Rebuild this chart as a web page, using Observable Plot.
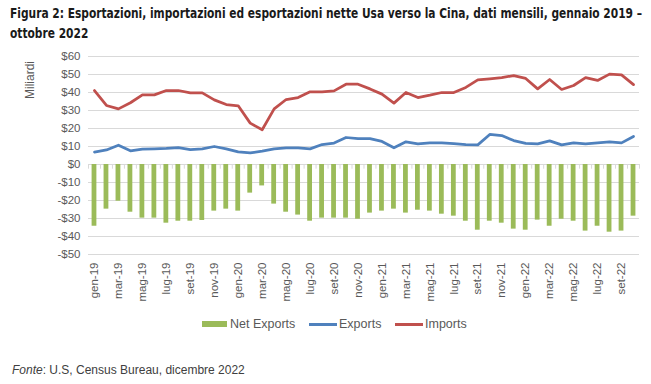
<!DOCTYPE html>
<html>
<head>
<meta charset="utf-8">
<script src="https://cdn.jsdelivr.net/npm/d3@7"></script>
<script src="https://cdn.jsdelivr.net/npm/@observablehq/plot@0.6"></script>
<style>
  html, body { margin: 0; padding: 0; background: #fff; }
  #wrap { position: relative; width: 651px; height: 384px; overflow: hidden; font-family: "Liberation Sans", Arial, sans-serif; }
  #title { position: absolute; left: 10px; top: 4px; white-space: nowrap; transform-origin: 0 0; font-family: "Liberation Sans Narrow", "DejaVu Sans Condensed", sans-serif; font-weight: bold; font-size: 13.5px; line-height: 19.5px; color: #1a1a1a; }
  #title span { display: block; width: max-content; }
  #chart { position: absolute; left: 0; top: 44px; }
  .leg { position: absolute; font-size: 12.5px; color: #595959; top: 316px; line-height: 16px; }
  .sw { position: absolute; }
  #caption { position: absolute; left: 12px; top: 363px; font-size: 12px; color: #404040; }
</style>
</head>
<body>
<div id="wrap">
  <div id="title"><span id="t1">Figura 2: Esportazioni, importazioni ed esportazioni nette Usa verso la Cina, dati mensili, gennaio 2019 –</span><span>ottobre 2022</span></div>
  <div id="chart"></div>
  <div class="sw" style="left:202px;top:321px;width:25px;height:6px;background:#9BBB59"></div>
  <div class="leg" style="left:230px">Net Exports</div>
  <div class="sw" style="left:309px;top:323px;width:28px;height:3px;background:#4F81BD"></div>
  <div class="leg" style="left:339px">Exports</div>
  <div class="sw" style="left:395px;top:323px;width:28px;height:3px;background:#C0504D"></div>
  <div class="leg" style="left:425px">Imports</div>
  <div id="caption"><i>Fonte</i>: U.S, Census Bureau, dicembre 2022</div>
</div>
<script>
const months = ["gen-19","feb-19","mar-19","apr-19","mag-19","giu-19","lug-19","ago-19","set-19","ott-19","nov-19","dic-19",
  "gen-20","feb-20","mar-20","apr-20","mag-20","giu-20","lug-20","ago-20","set-20","ott-20","nov-20","dic-20",
  "gen-21","feb-21","mar-21","apr-21","mag-21","giu-21","lug-21","ago-21","set-21","ott-21","nov-21","dic-21",
  "gen-22","feb-22","mar-22","apr-22","mag-22","giu-22","lug-22","ago-22","set-22","ott-22"];
const exportsV = [6.9,8.1,10.7,7.6,8.5,8.7,8.9,9.4,8.3,8.7,10.0,8.7,
  7.0,6.5,7.4,8.7,9.3,9.3,8.7,11.1,11.9,15.0,14.4,14.4,
  12.8,9.3,12.6,11.5,12.0,12.0,11.6,11.1,10.9,16.7,16.1,13.3,
  11.7,11.5,13.1,10.9,12.0,11.5,12.0,12.6,12.0,15.6];
const importsV = [41.1,32.8,30.9,34.3,38.7,38.7,41.1,41.1,39.8,39.8,35.9,33.3,
  32.6,23.0,19.3,30.9,36.1,37.2,40.4,40.4,40.9,44.6,44.6,42.0,
  39.1,34.1,40.0,37.2,38.5,40.0,40.0,42.8,47.0,47.6,48.3,49.4,
  47.8,42.0,47.2,41.7,43.9,48.3,46.7,50.2,49.8,44.4];
const netV = [-34.3,-24.8,-20.4,-26.5,-29.8,-29.8,-32.6,-31.5,-31.5,-31.1,-25.9,-24.8,
  -25.9,-15.9,-11.9,-22.0,-26.5,-28.1,-31.5,-29.8,-29.8,-29.8,-30.4,-27.0,
  -25.9,-24.8,-27.0,-25.4,-25.9,-27.6,-28.7,-31.5,-36.5,-31.5,-32.6,-35.9,
  -36.5,-30.9,-34.3,-30.4,-31.5,-37.0,-34.3,-37.6,-37.0,-28.7];
const yTicks = [-50,-40,-30,-20,-10,0,10,20,30,40,50,60];
const xTickLabels = months.filter((d, i) => i % 2 === 0);

const rows = months.map((m, i) => ({month: m, exp: exportsV[i], imp: importsV[i], net: netV[i]}));
const fmt = d => (d < 0 ? "-" : "") + "$" + Math.abs(d);

const chart = Plot.plot({
  width: 651,
  height: 270,
  marginTop: 12,
  marginBottom: 60,
  marginLeft: 88,
  marginRight: 12,
  style: {fontFamily: "'Liberation Sans', Arial, sans-serif", fontSize: "11.5px", color: "#595959", background: "white"},
  x: {domain: months, paddingInner: 0.6, paddingOuter: 0.3, axis: null},
  y: {domain: [-50, 60], axis: null},
  marks: [
    Plot.ruleY(yTicks, {stroke: "#d9d9d9", strokeWidth: 1}),
    Plot.ruleX(months, {x: d => d, y1: 0, y2: -2.6, dx: -6, stroke: "#d9d9d9"}),
    Plot.ruleX(months.slice(-1), {x: d => d, y1: 0, y2: -2.6, dx: 6, stroke: "#d9d9d9"}),
    Plot.barY(rows, {x: "month", y: "net", fill: "#9BBB59"}),
    Plot.lineY(rows, {x: "month", y: "exp", stroke: "#4F81BD", strokeWidth: 2.75, strokeLinejoin: "round"}),
    Plot.lineY(rows, {x: "month", y: "imp", stroke: "#C0504D", strokeWidth: 2.75, strokeLinejoin: "round"}),
    Plot.axisY(yTicks, {tickSize: 0, tickPadding: 8, tickFormat: fmt, label: null, fill: "#595959", fontSize: 11.5}),
    Plot.axisX(xTickLabels, {anchor: "bottom", tickSize: 0, tickPadding: 8, tickRotate: -90, label: null, fill: "#595959", fontSize: 11.5})
  ]
});
document.getElementById("chart").appendChild(chart);
d3.select(chart).append("text")
  .attr("transform", "translate(34,36) rotate(-90)")
  .attr("text-anchor", "middle")
  .attr("fill", "#595959")
  .style("font-size", "12px")
  .text("Miliardi");

// fit the first title line to the reference width
const t1 = document.getElementById("t1");
const w = t1.getBoundingClientRect().width;
document.getElementById("title").style.transform = "scaleX(" + (632 / w) + ")";
</script>
</body>
</html>
